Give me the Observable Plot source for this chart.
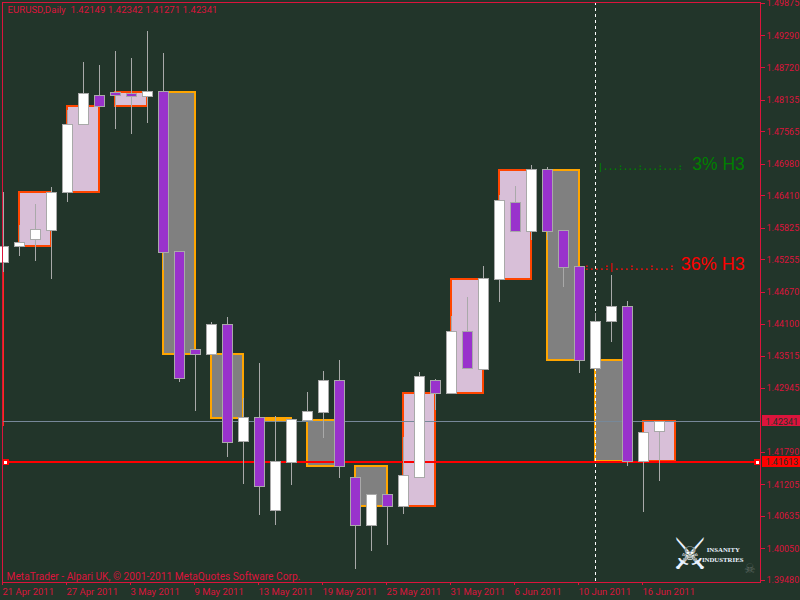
<!DOCTYPE html>
<html><head><meta charset="utf-8">
<script src="https://cdn.jsdelivr.net/npm/d3@7"></script>
<script src="https://cdn.jsdelivr.net/npm/@observablehq/plot@0.6"></script>
<style>html,body{margin:0;padding:0;background:#22352A;overflow:hidden}svg{display:block}</style>
</head><body>
<div id="chart"></div>
<script>
const open_ = [1.45200,1.45497,1.45614,1.45773,1.46458,1.47683,1.48212,1.48254,1.48236,1.48182,1.48272,1.45407,1.43636,1.43539,1.44092,1.41972,1.42399,1.40741,1.41593,1.42350,1.42494,1.43083,1.41318,1.40453,1.41029,1.40801,1.41323,1.43083,1.42831,1.43948,1.43269,1.44890,1.46272,1.45750,1.46867,1.45768,1.45119,1.43287,1.44134,1.44416,1.41611,1.42149];
const close_ = [1.45497,1.45569,1.45786,1.46470,1.47695,1.48236,1.48007,1.48200,1.48182,1.48272,1.45389,1.43107,1.43546,1.44092,1.41954,1.42399,1.41161,1.41606,1.42363,1.42507,1.43083,1.41521,1.40453,1.41029,1.40801,1.41354,1.43155,1.42831,1.43948,1.43287,1.44903,1.46308,1.45750,1.46867,1.45750,1.45106,1.43431,1.44146,1.44416,1.41611,1.42146,1.42341];
const high_ = [1.46470,1.45876,1.46254,1.46566,1.47948,1.48812,1.48758,1.49010,1.48884,1.49371,1.48974,1.45407,1.43636,1.44128,1.44218,1.42759,1.43389,1.42435,1.42363,1.42867,1.43245,1.43444,1.41318,1.41029,1.41029,1.42062,1.43227,1.43101,1.44236,1.44584,1.45137,1.46416,1.46578,1.46957,1.46921,1.45768,1.45119,1.44290,1.44975,1.44506,1.42146,1.42342];
const low_ = [1.45029,1.45317,1.45233,1.44908,1.46290,1.47683,1.48007,1.47605,1.47515,1.47713,1.45065,1.43047,1.42530,1.43539,1.41701,1.41210,1.40651,1.40471,1.41192,1.42350,1.42038,1.41318,1.39684,1.40002,1.40111,1.40669,1.41323,1.42543,1.42831,1.43287,1.43269,1.44488,1.45750,1.45605,1.45605,1.44764,1.43215,1.43287,1.43773,1.41539,1.40705,1.41271];

const boxStart = [1,4,7,10,13,16,19,22,25,28,31,34,37,40];
const boxOpen  = [1.45497,1.46470,1.48020,1.48272,1.43552,1.42399,1.42363,1.41534,1.40813,1.42849,1.44903,1.46867,1.43444,1.41624];
const boxClose = [1.46470,1.48020,1.48272,1.43552,1.42399,1.42363,1.41534,1.40813,1.42849,1.44903,1.46867,1.43444,1.41624,1.42341];

const yTicks = [1.49875,1.49290,1.48720,1.48135,1.47565,1.46980,1.46410,1.45825,1.45255,1.44670,1.44100,1.43515,1.42945,1.41790,1.41205,1.40635,1.40050,1.39480];
const xTickIdx = [0,4,8,12,16,20,24,28,32,36,40];
const xTickLabels = ["21 Apr 2011","27 Apr 2011","3 May 2011","9 May 2011","13 May 2011","19 May 2011","25 May 2011","31 May 2011","6 Jun 2011","10 Jun 2011","16 Jun 2011"];

const bidPrice = 1.42341, linePrice = 1.41613, cursorIdx = 37;
const bg = "#22352A", crimson = "#DC143C", wick = "#A9A9A9";
const font = "Roboto, sans-serif";

const bars = open_.map((o,i)=>({i,o,c:close_[i],h:high_[i],l:low_[i]}));
const boxes = boxStart.map((s,k)=>({s,o:boxOpen[k],c:boxClose[k]}));
const up = boxes.filter(b=>b.c>=b.o), down = boxes.filter(b=>b.c<b.o);
const hw = 5/16;

const boxMark = (data,fill,stroke)=>Plot.rect(data,{x1:d=>d.s,x2:d=>d.s+2,y1:"o",y2:"c",fill,stroke,strokeWidth:2});
const bodyMark = (data,fill)=>Plot.rect(data,{x1:d=>d.i-hw,x2:d=>d.i+hw,y1:"o",y2:"c",fill,stroke:wick,strokeWidth:1});

const chart = Plot.plot({
  width:800,height:600,
  marginLeft:2,marginTop:2,marginRight:40,marginBottom:18,
  style:{background:bg,fontFamily:font,shapeRendering:"crispEdges"},
  x:{type:"linear",domain:[-0.0625,47.3125],axis:null},
  y:{type:"linear",domain:[1.39444,1.49893],axis:null},
  marks:[
    Plot.ruleX([0],{y1:1.45497,y2:1.42254,stroke:"#FF2A1A",strokeWidth:1}),
    boxMark(up,"#D8BFD8","#FF4500"),
    boxMark(down,"#808080","#FFA500"),
    Plot.ruleY([bidPrice],{stroke:"#778899",strokeWidth:1}),
    Plot.ruleY([linePrice],{stroke:"#FF0000",strokeWidth:2}),
    Plot.ruleX([cursorIdx],{stroke:"#FFFFFF",strokeWidth:1,strokeDasharray:"3,3"}),
    Plot.ruleX(bars,{x:"i",y1:"l",y2:"h",stroke:wick,strokeWidth:1}),
    bodyMark(bars.filter(d=>d.c>=d.o),"#FFFFFF"),
    bodyMark(bars.filter(d=>d.c<d.o),"#9932CC"),
    Plot.frame({stroke:crimson,strokeWidth:1}),
    Plot.axisY({anchor:"right",ticks:yTicks,tickFormat:d3.format(".5f"),tickSize:4,tickPadding:2,stroke:crimson,color:crimson,fill:crimson,fontSize:9,fontFamily:font,label:null}),
    Plot.axisX({anchor:"bottom",ticks:xTickIdx,tickFormat:d=>xTickLabels[xTickIdx.indexOf(d)],tickSize:3,tickPadding:3,textAnchor:"start",stroke:crimson,fill:crimson,fontSize:9.5,fontFamily:font,label:null,dx:-1}),
    Plot.rect([0],{x1:47.44,x2:50,y1:1.42453,y2:1.4226,fill:crimson}),
    Plot.rect([0],{x1:47.44,x2:50,y1:1.41714,y2:1.41521,fill:"#FF0000"}),
    Plot.text(["1.42341"],{x:47.62,y:bidPrice,text:d=>d,textAnchor:"start",fill:bg,fontSize:9,fontFamily:font}),
    Plot.text(["1.41613"],{x:47.62,y:linePrice,text:d=>d,textAnchor:"start",fill:bg,fontSize:9,fontFamily:font}),
    Plot.dot([0.13,47.1],{x:d=>d,y:()=>linePrice,symbol:"square",r:2.5,fill:"#FFFFFF",stroke:"#FF0000",strokeWidth:1.5}),
    Plot.text(["EURUSD,Daily  1.42149 1.42342 1.41271 1.42341"],{frameAnchor:"top-left",dx:5,dy:4,text:d=>d,fill:crimson,fontSize:9.65,fontFamily:font,style:{whiteSpace:"pre"}}),
    Plot.text(["MetaTrader - Alpari UK, © 2001-2011 MetaQuotes Software Corp."],{frameAnchor:"bottom-left",dx:4,dy:-3,text:d=>d,fill:crimson,fontSize:10.2,fontFamily:font}),
    Plot.text(["|...:...:...:...:"],{x:37.15,y:1.46931,text:d=>d,textAnchor:"start",fill:"#008000",fontSize:8.3,fontFamily:"'DejaVu Sans Mono'",fontWeight:"bold"}),
    Plot.text([":...:|...:...:...:"],{x:36.28,y:1.45129,text:d=>d,textAnchor:"start",fill:"#FF0000",fontSize:8.3,fontFamily:"'DejaVu Sans Mono'",fontWeight:"bold"}),
    Plot.text(["3% H3"],{x:46.33,y:1.46975,text:d=>d,textAnchor:"end",fill:"#008000",fontSize:17.5,fontFamily:"'Liberation Sans'"}),
    Plot.text(["36% H3"],{x:46.33,y:1.4517,text:d=>d,textAnchor:"end",fill:"#FF0000",fontSize:18,fontFamily:"'Liberation Sans'"}),
    Plot.text(["⚔"],{x:42.9,y:1.3995,text:d=>d,fill:"#EAF2FF",fontSize:44,fontFamily:"'DejaVu Sans'"}),
    Plot.text(["☠"],{x:42.9,y:1.3995,text:d=>d,fill:"#FFFFFF",stroke:bg,strokeWidth:0.5,fontSize:20,fontFamily:"'DejaVu Sans'"}),
    Plot.text(["INSANITY"],{x:43.95,y:1.4003,text:d=>d,textAnchor:"start",fill:"#EAF2FF",fontSize:6.8,fontWeight:"bold",fontFamily:"'Liberation Serif'"}),
    Plot.text(["INDUSTRIES"],{x:43.65,y:1.3985,text:d=>d,textAnchor:"start",fill:"#EAF2FF",fontSize:6.8,fontWeight:"bold",fontFamily:"'Liberation Serif'"}),
    Plot.text(["☠"],{x:46.65,y:1.39696,text:d=>d,fill:"#5C6660",fontSize:13,fontFamily:"'DejaVu Sans'"})
  ]
});
document.getElementById("chart").appendChild(chart);
</script>
</body></html>
